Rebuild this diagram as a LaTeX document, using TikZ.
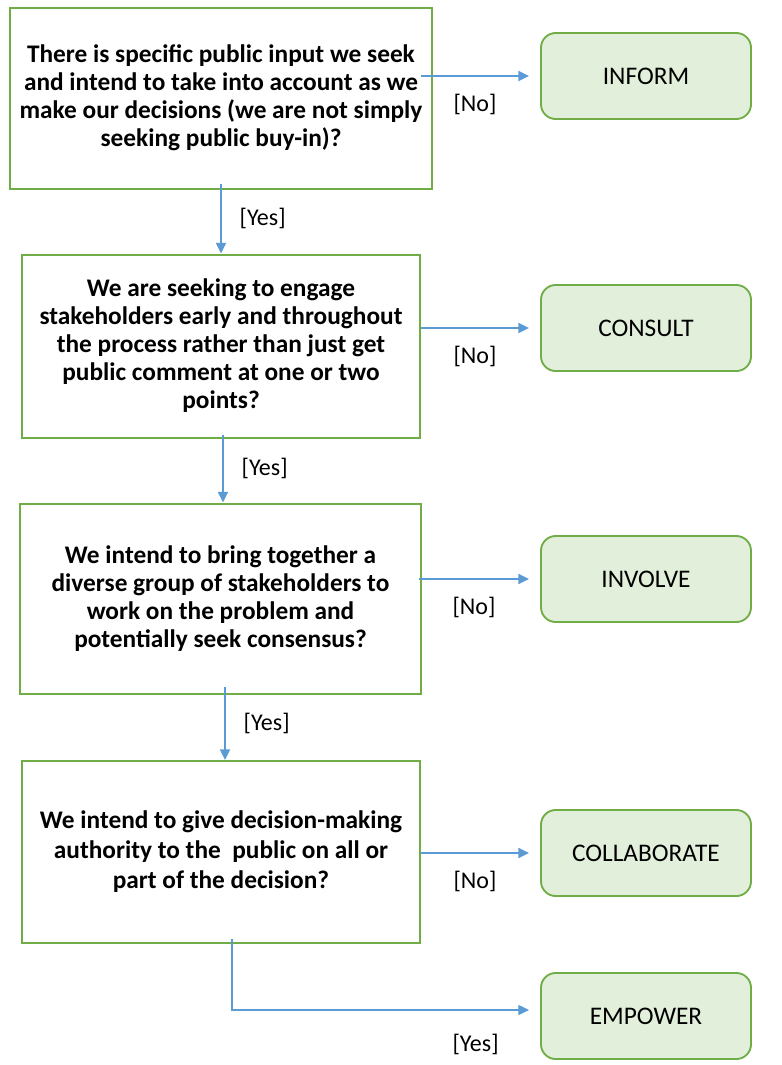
\documentclass[tikz,border=0pt]{standalone}
\usepackage{fontspec}
\setmainfont{Carlito}
\usetikzlibrary{arrows.meta,calc,positioning}
\definecolor{BoxGreen}{RGB}{112,173,71}
\definecolor{PaleGreen}{RGB}{226,239,218}
\definecolor{ArrowBlue}{RGB}{91,155,213}

\begin{document}
\begin{tikzpicture}[x=0.75pt,y=-0.75pt,>={Triangle[length=8pt,width=7.5pt]},
    qbox/.style={draw=BoxGreen,line width=1.5pt,align=center,inner sep=0pt,
      font=\fontsize{19}{21}\selectfont\bfseries},
    outbox/.style={draw=BoxGreen,fill=PaleGreen,line width=1.4pt,rounded corners=11pt,
      minimum width=157.5pt,minimum height=64.5pt,font=\fontsize{19}{21}\selectfont},
    flow/.style={->,ArrowBlue,line width=1.3pt},
    tag/.style={text=black,font=\fontsize{18}{21}\selectfont}]
  \useasboundingbox (0,0) rectangle (782,1065);

  % questions
  \node[qbox,minimum width=316.5pt,minimum height=135.75pt] (q1) at (221,98)
    {There is specific public input we seek\\ and intend to take into account as we\\
     make our decisions (we are not simply\\ seeking public buy-in)?};
  \node[qbox,minimum width=298.5pt,minimum height=137.25pt] (q2) at (221,346)
    {We are seeking to engage\\ stakeholders early and throughout\\
     the process rather than just get\\ public comment at one or two\\ points?};
  \node[qbox,minimum width=300.75pt,minimum height=142.5pt] (q3) at (220.5,598.5)
    {We intend to bring together a\\ diverse group of stakeholders to\\
     work on the problem and\\ potentially seek consensus?};
  \node[qbox,minimum width=298.5pt,minimum height=136.5pt,
        font=\fontsize{19}{22.5}\selectfont\bfseries] (q4) at (221,852)
    {We intend to give decision-making\\ authority to the\ \ public on all or\\
     part of the decision?};

  % outcomes
  \node[outbox] (inform)  at (646,76)   {INFORM};
  \node[outbox] (consult) at (646,328)  {CONSULT};
  \node[outbox] (involve) at (646,579)  {INVOLVE};
  \node[outbox] (collab)  at (646,853)  {COLLABORATE};
  \node[outbox] (empower) at (646,1016) {EMPOWER};

  % no branches
  \draw[flow] ($(q1.east |- inform.west)+(-12,0)$) -- ($(inform.west)+(-11,0)$)
    node[midway,below=10pt,tag]{[No]};
  \draw[flow] (q2.east |- consult.west) -- ($(consult.west)+(-11,0)$)
    node[midway,below=10pt,tag]{[No]};
  \draw[flow] ($(q3.east |- involve.west)+(-3,0)$) -- ($(involve.west)+(-11,0)$)
    node[midway,below=10pt,tag]{[No]};
  \draw[flow] (q4.east |- collab.west) -- ($(collab.west)+(-11,0)$)
    node[midway,below=10pt,tag]{[No]};

  % yes branches
  \draw[flow] ($(q1.south)+(0,-6)$) -- (q2.north)
    node[midway,right=10pt,tag]{[Yes]};
  \draw[flow] ($(q2.south)+(2,-4)$) -- ($(q3.north)+(2.5,0)$)
    node[midway,right=10pt,tag]{[Yes]};
  \draw[flow] ($(q3.south)+(4.5,-8)$) -- ($(q4.north)+(4,0)$)
    node[midway,right=10pt,tag]{[Yes]};
  \draw[->,ArrowBlue,line width=0.8pt] ($(q4.south)+(11,-5)$) |- ($(empower.west)+(-11,-6)$)
    node[pos=0.91,below=14pt,tag]{[Yes]};
\end{tikzpicture}
\end{document}
